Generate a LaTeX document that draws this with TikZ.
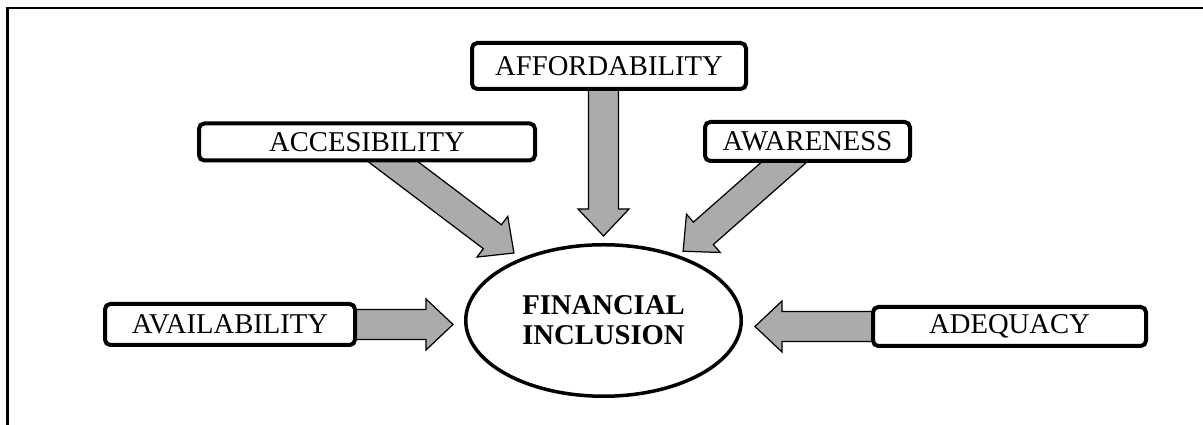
\documentclass[tikz,border=0pt]{standalone}
\usepackage{fontspec}
\setmainfont{Liberation Serif}
\usepackage{tikz}
\usetikzlibrary{arrows.meta, positioning, calc, backgrounds, shapes.geometric}
\definecolor{fgray}{HTML}{ABABAB}
\tikzset{
  font=\fontsize{16.3}{17.1}\selectfont,
  frame/.style={line width=1.5pt, draw=black},
  factor/.style={
    draw=black, fill=white, line width=0.08cm,
    rounded corners=3pt, inner sep=2pt, align=center
  },
  core/.style={
    ellipse, draw=black, fill=white, line width=0.07cm,
    minimum width=5.51cm, minimum height=3.03cm, inner sep=0pt,
    align=center, font=\fontsize{16.3}{17.1}\selectfont\bfseries
  },
  fatarrow/.style={fill=fgray, draw=black, line width=0.7pt, line join=miter}
}
% half shaft, half head, head length
\def\halfshaft{0.3cm}
\def\halfhead{0.51cm}
\def\headlen{0.54cm}
% block arrow from #2 to #3, stopping #1 short of #3
\newcommand{\fatarrow}[3][0.15cm]{%
  \coordinate (fa-s) at (#2);
  \coordinate (fa-e) at (#3);
  \coordinate (fa-t) at ($(fa-e)!#1!(fa-s)$);
  \coordinate (fa-h) at ($(fa-t)!\headlen!(fa-s)$);
  \filldraw[fatarrow]
    ($(fa-s)!\halfshaft!90:(fa-t)$) -- ($(fa-h)!\halfshaft!90:(fa-t)$)
    -- ($(fa-h)!\halfhead!90:(fa-t)$) -- (fa-t)
    -- ($(fa-h)!\halfhead!-90:(fa-t)$) -- ($(fa-h)!\halfshaft!-90:(fa-t)$)
    -- ($(fa-s)!\halfshaft!-90:(fa-t)$) -- cycle;
}
\begin{document}
\begin{tikzpicture}
  \useasboundingbox (0,0) rectangle (24.06,-8.5);
  \draw[frame] (0.15,-8.5) -- (0.15,-0.16) -- (24.06,-0.16);

  \node[core] (fin) at (12.07,-6.41) {\raisebox{-0.06cm}{FINANCIAL}\\\raisebox{-0.06cm}{INCLUSION}};
  \node[factor,minimum width=5.48cm,minimum height=0.92cm] (aff) at (12.18,-1.32) {AFFORDABILITY};
  \node[factor,minimum width=6.72cm,minimum height=0.74cm] (acc) at (7.34,-2.84) {ACCESIBILITY};
  \node[factor,minimum width=4.1cm,minimum height=0.78cm] (awa) at (16.15,-2.83) {AWARENESS};
  \node[factor,minimum width=5.0cm,minimum height=0.82cm] (ava) at (4.6,-6.49) {AVAILABILITY};
  \node[factor,minimum width=5.46cm,minimum height=0.78cm] (adq) at (20.19,-6.53) {ADEQUACY};

  \begin{scope}[on background layer]
    \fatarrow[0.14cm]{aff.center -| fin.center}{fin.north}
    \fatarrow[0.17cm]{acc.center}{fin.143}
    \fatarrow[0.12cm]{awa.center}{fin.41}
    \fatarrow[0.22cm]{ava.center}{fin.west |- ava.center}
    \fatarrow[0.24cm]{adq.center}{fin.east |- adq.center}
  \end{scope}
\end{tikzpicture}
\end{document}
